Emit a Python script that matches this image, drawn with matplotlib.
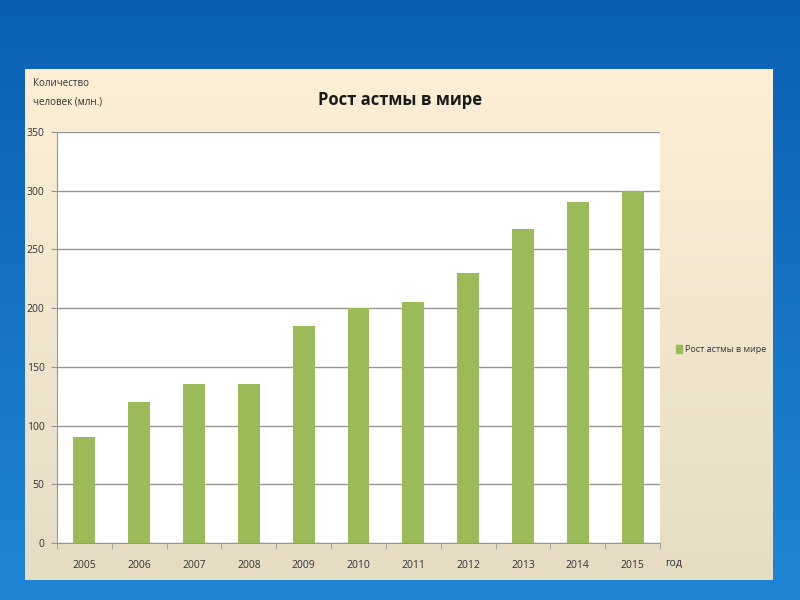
import numpy as np
import matplotlib.pyplot as plt
from matplotlib.patches import Rectangle

plt.rcParams['font.family'] = ['Open Sans', 'DejaVu Sans']

years = ['2005', '2006', '2007', '2008', '2009', '2010', '2011', '2012', '2013', '2014', '2015']
values = [90, 120, 135, 135, 185, 200, 205, 230, 267, 290, 300]
series_name = 'Рост астмы в мире'

W, H = 800, 600
fig = plt.figure(figsize=(8, 6), dpi=100)

# blue background
bg = fig.add_axes([0, 0, 1, 1])
grad = np.linspace(0, 1, 256).reshape(-1, 1)
bg.imshow(grad, aspect='auto', extent=[0, 1, 0, 1],
          cmap=plt.matplotlib.colors.LinearSegmentedColormap.from_list('b', ['#0a5fb4', '#1f86d6']))
# cream panel
x0, y0, x1, y1 = 25 / W, 1 - 580 / H, 773 / W, 1 - 69 / H
pgrad = np.linspace(0, 1, 256).reshape(-1, 1)
bg.imshow(pgrad, aspect='auto', extent=[x0, x1, y0, y1],
          cmap=plt.matplotlib.colors.LinearSegmentedColormap.from_list('c', ['#fcefd6', '#e6dcc4']))
bg.set_xlim(0, 1)
bg.set_ylim(0, 1)
bg.axis('off')

# plot area
left, right, top, bottom = 57, 660, 132, 543
ax = fig.add_axes([left / W, 1 - bottom / H, (right - left) / W, (bottom - top) / H])
ax.set_facecolor('white')
x = np.arange(len(years))
ax.bar(x, values, width=0.4, color='#9bbb59', zorder=3)
ax.set_xlim(-0.5, len(years) - 0.5)
ax.set_ylim(0, 350)
ax.set_yticks(range(0, 351, 50))
ax.grid(axis='y', color='#969696', linewidth=1, zorder=0)
ax.set_xticks(x)
ax.set_xticklabels(years)
ax.set_xticks(np.arange(-0.5, len(years), 1), minor=True)
ax.tick_params(axis='x', which='major', length=0, pad=12, labelsize=7.5, colors='#333333')
ax.tick_params(axis='x', which='minor', length=4, color='#969696')
ax.tick_params(axis='y', length=4, color='#969696', labelsize=7.5, labelcolor='#333333', pad=5)
for s in ['top', 'right']:
    ax.spines[s].set_visible(False)
for s in ['left', 'bottom']:
    ax.spines[s].set_color('#969696')

fig.text(400 / W, 1 - 100 / H, series_name, ha='center', va='center',
         fontsize=12, fontweight='bold', color='#1a1a1a')
fig.text(33 / W, 1 - 93 / H, 'Количество\nчеловек (млн.)', ha='left', va='center',
         fontsize=7, color='#333333', linespacing=2.0)
fig.text(665 / W, 1 - 563 / H, 'год', ha='left', va='center', fontsize=7.5, color='#333333')

# legend
fig.patches.append(Rectangle((676 / W, 1 - 353 / H), 6 / W, 8 / H,
                             transform=fig.transFigure, color='#9bbb59'))
fig.text(685 / W, 1 - 349 / H, series_name, ha='left', va='center', fontsize=6.5, color='#333333')

fig.savefig('out.png', dpi=100)
